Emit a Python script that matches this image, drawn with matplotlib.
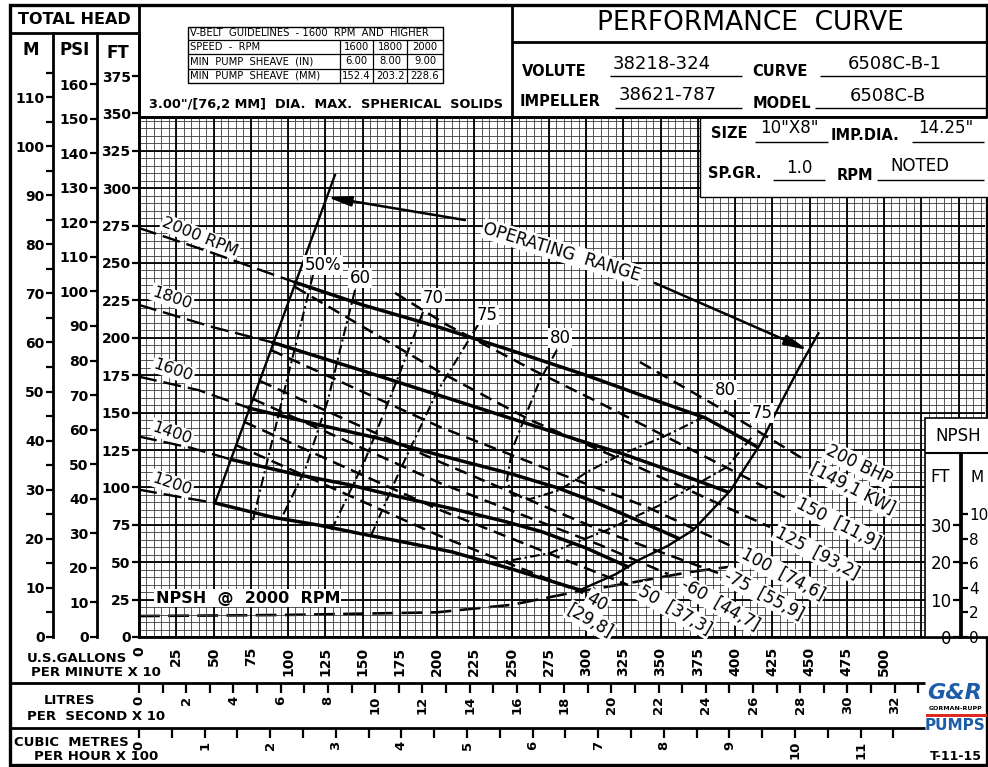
import numpy as np
import matplotlib.pyplot as plt
from matplotlib.patches import Rectangle

plt.rcParams['font.family'] = 'DejaVu Sans'
plt.rcParams['lines.scale_dashes'] = False

W, H = 988, 767
SX, SY = 1.49, 1.496          # pixels per (gpm x10) and per ft on the graph paper
FT_PER_M, FT_PER_PSI = 3.281, 2.31
NPSH_K = 2.5                  # npsh scale is stretched 2.5x against the head scale
GPM10_PER_LPS10 = 15.85       # 10 l/s in gpm/10
GPM10_PER_CMH100 = 44.03      # 100 m3/h in gpm/10

# ---- values: flow in US gpm x 10, head in ft ----
speeds = [2000, 1800, 1600, 1400, 1200]
q_2000 = [0, 25, 50, 75, 105, 150, 200, 250, 300, 350, 380, 400, 415]
h_2000 = [273.4, 265.0, 256.5, 247.6, 237.0, 222.0, 207.5, 191.5, 175.0, 157.0, 146.5, 135.5, 127.0]
q_1800 = [0, 25, 50, 90, 150, 200, 250, 300, 323, 360, 395]
h_1800 = [222.0, 214.5, 207.0, 196.8, 178.0, 162.0, 146.0, 130.0, 123.0, 110.0, 97.0]
q_1600 = [0, 40, 74, 120, 160, 200, 250, 280, 304, 330, 362]
h_1600 = [174.0, 165.0, 153.0, 142.0, 133.0, 122.0, 109.0, 100.0, 91.0, 80.0, 66.0]
q_1400 = [0, 35, 62, 105, 140, 175, 210, 245, 270, 300, 328]
h_1400 = [134.0, 126.4, 118.6, 108.8, 102.0, 93.6, 85.8, 77.4, 70.5, 59.5, 47.0]
q_1200 = [0, 25, 51, 90, 120, 150, 180, 210, 250, 296]
h_1200 = [98.5, 94.0, 89.6, 80.0, 74.9, 68.8, 63.0, 56.9, 45.5, 31.4]
q_enter = [105, 90, 74, 62, 51]          # where each speed enters the operating range
rpm_labels = ['2000 RPM', '1800', '1600', '1400', '1200']

# operating range limits
left_q = [51, 131.5]
left_h = [89.6, 308.8]
right_q = [296, 320, 336, 355, 372, 397, 417, 430, 443, 456]
right_h = [31.4, 42.0, 51.8, 61.0, 71.5, 98.0, 129.0, 155.0, 180.0, 203.0]

# efficiency contours (%)
eff50_q, eff50_h = [116.8, 99.3, 76.5], [242.0, 171.8, 78.2]
eff60_q, eff60_h = [145.0, 134.9, 126.8, 111.4, 96.0], [232.0, 191.8, 158.4, 111.6, 80.2]
eff70_q, eff70_h = [190.6, 173.2, 151.7, 128.2], [217.2, 171.8, 118.3, 69.5]
eff75a_q, eff75a_h = [227.5, 200.0, 175.2, 155.0], [208.6, 163.8, 111.6, 66.2]
eff75b_q = [237.6, 275.8, 314.0, 349.7, 394.6, 411.4]
eff75b_h = [49.0, 56.1, 71.5, 88.2, 113.6, 133.7]
eff80_q = [280.5, 269.1, 260.4, 250.3, 247.0, 250.3, 262.4, 282.6, 300.7, 322.8, 351.7, 380.0]
eff80_h = [191.8, 171.8, 150.4, 125.0, 105.0, 94.9, 92.2, 98.3, 110.3, 121.7, 133.7, 147.5]
eff_labels = ['50%', '60', '70', '75', '80', '80', '75']

# brake horsepower lines
bhp200_q, bhp200_h = [336.2, 389.9, 447.0], [183.8, 153.1, 118.3]
bhp150_q, bhp150_h = [171.8, 206.7, 264.4, 309.4, 436.9], [230.0, 208.6, 178.5, 156.4, 91.6]
bhp125_q, bhp125_h = [104.7, 202.0, 262.4, 327.5, 423.5], [234.0, 177.1, 145.1, 117.0, 73.5]
bhp100_q, bhp100_h = [88.6, 202.0, 275.8, 340.9, 398.7], [191.8, 140.4, 111.6, 86.9, 60.2]
bhp75_q, bhp75_h = [81.2, 202.0, 309.4, 388.6], [171.1, 117.0, 71.5, 42.8]
bhp60_q, bhp60_h = [76.5, 202.0, 309.4, 355.0], [159.1, 102.9, 61.5, 42.1]
bhp50_q, bhp50_h = [70.8, 202.0, 328.2], [143.7, 84.9, 34.8]
bhp40_q, bhp40_h = [65.1, 202.0, 298.0], [128.3, 67.5, 29.4]
bhp_labels = ['200 BHP', '[149,1 KW]', '150  [11,9]', '125  [93,2]', '100  [74,6]',
              '-75  [55,9]', '-60  [44,7]', '50  [37,3]', '40', '[29,8]']

# NPSH required at 2000 rpm (ft)
npsh_q = [0, 100, 200, 250, 290, 330, 370, 397]
npsh_ft = [5.6, 5.9, 6.6, 8.6, 11.8, 14.5, 17.4, 18.8]

# scales
gpm_ticks = list(range(0, 501, 25))
lps_ticks = list(range(0, 33, 2))
cmh_ticks = list(range(0, 12))
m_ticks = list(range(0, 111, 10))
psi_ticks = list(range(0, 161, 10))
ft_ticks = list(range(0, 376, 25))

fig = plt.figure(figsize=(W / 100, H / 100), dpi=100)


def px_rect(x0, y0, x1, y1):
    return [x0 / W, 1 - y1 / H, (x1 - x0) / W, (y1 - y0) / H]


# ---------------- main graph ----------------
ax = fig.add_axes(px_rect(139, 117, 985, 637))
ax.set_xlim(0, (985 - 139) / SX)
ax.set_ylim(0, (637 - 117) / SY)
ax.set_zorder(2)
ax.patch.set_visible(False)
qmax, hmax = ax.get_xlim()[1], ax.get_ylim()[1]

ax.vlines(np.arange(0, qmax, 5), 0, hmax, color='#3a3a3a', lw=0.6, zorder=0.2)
ax.hlines(np.arange(0, hmax, 5), 0, qmax, color='#3a3a3a', lw=0.6, zorder=0.2)
ax.vlines(np.arange(0, qmax, 25), 0, hmax, color='black', lw=1.3, zorder=0.3)
ax.hlines(np.arange(0, hmax, 25), 0, qmax, color='black', lw=1.3, zorder=0.3)

for s in ['left', 'top', 'bottom']:
    ax.spines[s].set_linewidth(2)
ax.spines['right'].set_visible(False)
ax.set_yticks([])
ax.set_xticks(gpm_ticks)
ax.set_xticklabels([str(v) for v in gpm_ticks], rotation=90, fontsize=10, fontweight='bold')
ax.tick_params(axis='x', length=0, pad=7)

white = dict(facecolor='white', edgecolor='none', pad=1.0)

# speed curves: dashed outside the operating range, heavy inside
heads = [(q_2000, h_2000), (q_1800, h_1800), (q_1600, h_1600), (q_1400, h_1400), (q_1200, h_1200)]
for (q, h), qe in zip(heads, q_enter):
    q, h = np.array(q), np.array(h)
    ax.plot(q[q <= qe], h[q <= qe], color='black', lw=1.7, dashes=(13, 5), zorder=2)
    ax.plot(q[q >= qe], h[q >= qe], color='black', lw=2.5, zorder=3)

rpm_pos = [(41, 267.4, -22), (22, 226.6, -19), (23, 178.5, -19), (22, 136.4, -19), (22, 102.3, -19)]
for lab, (x, y, r) in zip(rpm_labels, rpm_pos):
    ax.text(x, y, lab, rotation=r, fontsize=11.5, ha='center', va='center',
            bbox=white, zorder=1)

# operating range
ax.plot(left_q, left_h, color='black', lw=1.7, zorder=3)
ax.plot(right_q, right_h, color='black', lw=1.7, zorder=3)

# efficiency
eff_curves = [(eff50_q, eff50_h), (eff60_q, eff60_h), (eff70_q, eff70_h),
              (eff75a_q, eff75a_h), (eff75b_q, eff75b_h), (eff80_q, eff80_h)]
for q, h in eff_curves:
    ax.plot(q, h, color='black', lw=1.5, dashes=(7, 2.5, 1.6, 2.5), zorder=2.5)
eff_pos = [(123.5, 248.7), (148.3, 240.0), (197.3, 226.6), (233.6, 215.2),
           (282.6, 199.9), (393.3, 165.1), (418.1, 149.7)]
for lab, (x, y) in zip(eff_labels, eff_pos):
    ax.text(x, y, lab, fontsize=12, ha='center', va='center', bbox=white, zorder=5)

# brake horsepower
bhp_curves = [(bhp200_q, bhp200_h), (bhp150_q, bhp150_h), (bhp125_q, bhp125_h),
              (bhp100_q, bhp100_h), (bhp75_q, bhp75_h), (bhp60_q, bhp60_h),
              (bhp50_q, bhp50_h), (bhp40_q, bhp40_h)]
for q, h in bhp_curves:
    ax.plot(q, h, color='black', lw=1.8, dashes=(9, 5), zorder=2)
bhp_pos = [(483.2, 115.0, -26), (479.2, 98.9, -27), (469.1, 76.2, -27), (455.0, 56.1, -28),
           (432.2, 42.1, -28), (419.5, 28.1, -28), (389.9, 21.4, -30), (359.7, 18.0, -30),
           (307.4, 23.4, -30), (302.7, 10.7, -30)]
for lab, (x, y, r) in zip(bhp_labels, bhp_pos):
    ax.text(x, y, lab, rotation=r, fontsize=12, ha='center', va='center',
            bbox=white, zorder=5)

# operating range arrows and note
arrow = dict(arrowstyle='-|>,head_length=1.4,head_width=0.3', color='black', lw=1.8,
             shrinkA=0, shrinkB=0)
ax.annotate('', xy=(126.2, 294.1), xytext=(218.8, 278.7), arrowprops=arrow, zorder=4)
ax.annotate('', xy=(449.0, 191.8), xytext=(346.3, 236.6), arrowprops=arrow, zorder=4)
ax.text(283.9, 257.4, 'OPERATING  RANGE', rotation=-17, fontsize=12, ha='center',
        va='center', bbox=white, zorder=5)

# NPSH on its own stretched scale
axn = ax.twinx()
axn.set_zorder(1)
axn.set_ylim(0, hmax / NPSH_K)
axn.axis('off')
axn.plot(npsh_q, npsh_ft, color='black', lw=1.9, dashes=(15, 6))
ax.text(73, 26, 'NPSH  @  2000  RPM', fontsize=11.5, fontweight='bold', ha='center',
        va='center', bbox=white, zorder=5)

# ---------------- frame, title block, boxes ----------------
ov = fig.add_axes([0, 0, 1, 1], zorder=5)
ov.set_xlim(0, W)
ov.set_ylim(H, 0)
ov.axis('off')
ov.patch.set_visible(False)


def hline(y, x0, x1, lw=2.0):
    ov.plot([x0, x1], [y, y], color='black', lw=lw, solid_capstyle='butt')


def vline(x, y0, y1, lw=2.0):
    ov.plot([x, x], [y0, y1], color='black', lw=lw, solid_capstyle='butt')


ov.add_patch(Rectangle((10, 5), 977, 760, fill=False, lw=2.4, ec='black'))
vline(139, 5, 117)
hline(33, 10, 139)
vline(512, 5, 117)
hline(42, 512, 987)
hline(117, 139, 987)
hline(683, 10, 925)
hline(728, 10, 925)

ov.text(74, 19, 'TOTAL HEAD', ha='center', va='center', fontsize=11.5, fontweight='bold')
ov.text(31, 50, 'M', ha='center', va='center', fontsize=12, fontweight='bold')
ov.text(75, 50, 'PSI', ha='center', va='center', fontsize=12, fontweight='bold')
ov.text(118, 53, 'FT', ha='center', va='center', fontsize=12, fontweight='bold')

# v-belt table
ov.add_patch(Rectangle((188, 27), 255, 56, fill=False, lw=1.0, ec='black'))
for y in [40, 54, 69]:
    hline(y, 188, 443, lw=0.9)
for x in [340, 373, 407]:
    vline(x, 40, 83, lw=0.9)
tf = dict(fontsize=7.2, va='center')
ov.text(190, 33.5, 'V-BELT  GUIDELINES  - 1600  RPM  AND  HIGHER', **tf)
ov.text(190, 47, 'SPEED  -  RPM', **tf)
ov.text(190, 61.5, 'MIN  PUMP  SHEAVE  (IN)', **tf)
ov.text(190, 76, 'MIN  PUMP  SHEAVE  (MM)', **tf)
for cx, a, b, c in zip([356.5, 390, 425], ['1600', '1800', '2000'],
                       ['6.00', '8.00', '9.00'], ['152.4', '203.2', '228.6']):
    ov.text(cx, 47, a, ha='center', **tf)
    ov.text(cx, 61.5, b, ha='center', **tf)
    ov.text(cx, 76, c, ha='center', **tf)
ov.text(326, 105, '3.00"/[76,2 MM]  DIA.  MAX.  SPHERICAL  SOLIDS', ha='center',
        va='center', fontsize=9.3, fontweight='bold')

# title block
ov.text(750, 23, 'PERFORMANCE  CURVE', ha='center', va='center', fontsize=19)
lab = dict(fontsize=10.5, fontweight='bold', va='center')
val = dict(fontsize=13, va='center', ha='center')
ov.text(522, 71, 'VOLUTE', **lab)
ov.text(662, 64, '38218-324', **val)
hline(76, 610, 742, lw=1.0)
ov.text(752, 72, 'CURVE', **lab)
ov.text(895, 64, '6508C-B-1', **val)
hline(76, 820, 987, lw=1.0)
ov.text(520, 101, 'IMPELLER', **lab)
ov.text(668, 95, '38621-787', **val)
hline(108, 615, 742, lw=1.0)
ov.text(753, 103, 'MODEL', **lab)
ov.text(888, 96, '6508C-B', **val)
hline(108, 815, 987, lw=1.0)

ov.add_patch(Rectangle((700, 117), 290, 80, fc='white', ec='black', lw=1.0))
ov.text(711, 134, 'SIZE', **lab)
ov.text(789, 128, '10"X8"', fontsize=12, va='center', ha='center')
hline(142, 755, 828, lw=1.0)
ov.text(831, 135, 'IMP.DIA.', **lab)
ov.text(946, 128, '14.25"', fontsize=12, va='center', ha='center')
hline(142, 912, 984, lw=1.0)
ov.text(708, 174, 'SP.GR.', **lab)
ov.text(799, 168, '1.0', fontsize=12, va='center', ha='center')
hline(180, 773, 825, lw=1.0)
ov.text(837, 175, 'RPM', **lab)
ov.text(920, 166, 'NOTED', fontsize=12, va='center', ha='center')
hline(180, 877, 984, lw=1.0)

# NPSH scale box
ov.add_patch(Rectangle((925, 418), 65, 219, fc='white', ec='black', lw=1.2))
hline(453, 925, 988, lw=1.5)
ov.text(958, 436, 'NPSH', ha='center', va='center', fontsize=12)
ov.text(940, 477, 'FT', ha='center', va='center', fontsize=12)
ov.text(977, 477, 'M', ha='center', va='center', fontsize=11)

# bottom scale names
bl = dict(fontsize=9.5, fontweight='bold', ha='center', va='center')
ov.text(77, 658, 'U.S.GALLONS', **bl)
ov.text(96, 673, 'PER MINUTE X 10', **bl)
ov.text(69, 700, 'LITRES', **bl)
ov.text(96, 716, 'PER  SECOND X 10', **bl)
ov.text(71, 743, 'CUBIC  METRES', **bl)
ov.text(96, 757, 'PER HOUR X 100', **bl)

# logo and drawing number
ov.text(955, 693, 'G&R', ha='center', va='center', fontsize=16, fontweight='bold',
        style='italic', color='#1d5ca8')
ov.text(956, 709, 'GORMAN-RUPP', ha='center', va='center', fontsize=4.5, fontweight='bold')
ov.add_patch(Rectangle((926, 713.5), 61, 3, fc='#e02a20', ec='none'))
ov.text(955, 726, 'PUMPS', ha='center', va='center', fontsize=11, fontweight='bold',
        color='#1d5ca8')
ov.text(956, 757, 'T-11-15', ha='center', va='center', fontsize=9, fontweight='bold')


# ---------------- side and bottom scales ----------------
def side_scale(x, factor, majors, minors=(), side='left', y_top=33, y_bot=637, k=1.0,
               size=10, weight='bold'):
    x0 = x if side == 'left' else x - 1
    a = fig.add_axes(px_rect(x0, y_top, x0 + 1, y_bot), zorder=6)
    a.patch.set_visible(False)
    a.set_xlim(0, 1)
    a.set_ylim(0, (y_bot - y_top) / SY / k / factor)
    for s in a.spines.values():
        s.set_visible(False)
    a.spines[side].set_visible(True)
    a.spines[side].set_linewidth(2)
    a.set_xticks([])
    a.yaxis.set_ticks_position(side)
    a.set_yticks(majors)
    a.set_yticks(minors, minor=True)
    a.set_yticklabels([str(v) for v in majors], fontsize=size, fontweight=weight)
    a.tick_params(axis='y', which='both', direction='out', length=5, width=1.6, pad=1)
    return a


side_scale(53, FT_PER_M, m_ticks, minors=list(range(5, 116, 10)))
side_scale(97, FT_PER_PSI, psi_ticks)
side_scale(139, 1.0, ft_ticks)
side_scale(960, 1.0, [0, 10, 20, 30], y_top=453, k=NPSH_K, size=12, weight='normal')
side_scale(961, FT_PER_M, [0, 2, 4, 6, 8, 10], side='right', y_top=453, k=NPSH_K,
           size=11, weight='normal')


def bottom_scale(y, per_unit, majors, minors):
    a = fig.add_axes(px_rect(139, y - 1, 985, y), zorder=6)
    a.patch.set_visible(False)
    a.set_xlim(0, qmax / per_unit)
    a.set_yticks([])
    for s in a.spines.values():
        s.set_visible(False)
    a.set_xticks(majors)
    a.set_xticks(minors, minor=True)
    a.set_xticklabels([str(v) for v in majors], rotation=90, fontsize=9.5, fontweight='bold')
    a.tick_params(axis='x', which='both', direction='out', length=7, width=1.6, pad=2)


bottom_scale(683, GPM10_PER_LPS10, lps_ticks, list(range(1, 34, 2)))
bottom_scale(728, GPM10_PER_CMH100, cmh_ticks, [v + 0.5 for v in cmh_ticks])

fig.savefig('out.png', dpi=100, facecolor='white')
